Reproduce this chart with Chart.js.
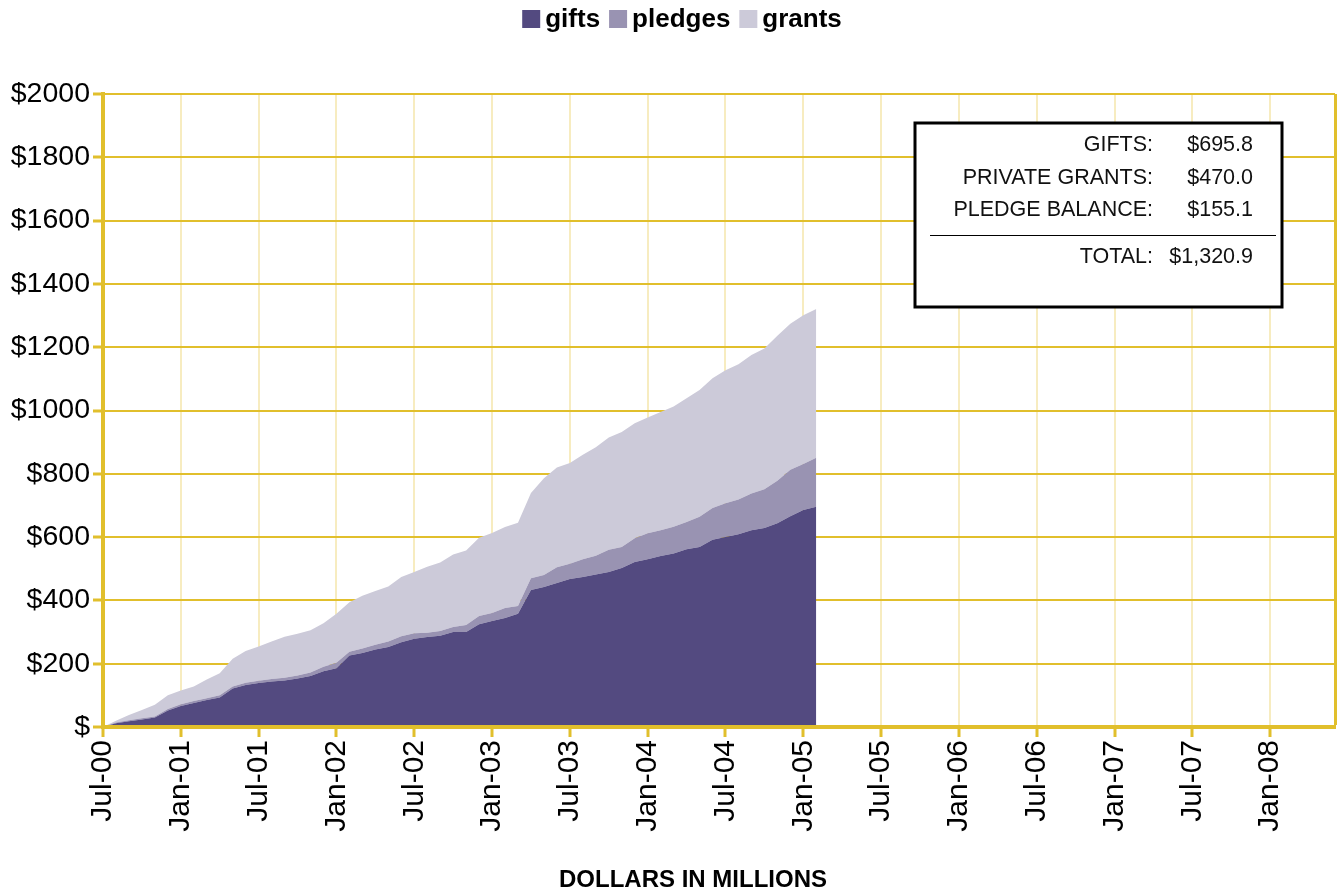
<!DOCTYPE html>
<html>
<head>
<meta charset="utf-8">
<script src="https://cdn.jsdelivr.net/npm/chart.js@4.4.1/dist/chart.umd.min.js"></script>
<style>
html,body{margin:0;padding:0;background:#fff;}
#wrap{width:1338px;height:891px;position:relative;}
</style>
</head>
<body>
<div id="wrap"><canvas id="c" width="1338" height="891"></canvas></div>
<script>
// Categories: one per month, Jul-00 .. Jun-08
const months = [
  'Jul-00','Aug-00','Sep-00','Oct-00','Nov-00','Dec-00',
  'Jan-01','Feb-01','Mar-01','Apr-01','May-01','Jun-01','Jul-01','Aug-01','Sep-01','Oct-01','Nov-01','Dec-01',
  'Jan-02','Feb-02','Mar-02','Apr-02','May-02','Jun-02','Jul-02','Aug-02','Sep-02','Oct-02','Nov-02','Dec-02',
  'Jan-03','Feb-03','Mar-03','Apr-03','May-03','Jun-03','Jul-03','Aug-03','Sep-03','Oct-03','Nov-03','Dec-03',
  'Jan-04','Feb-04','Mar-04','Apr-04','May-04','Jun-04','Jul-04','Aug-04','Sep-04','Oct-04','Nov-04','Dec-04',
  'Jan-05','Feb-05','Mar-05','Apr-05','May-05','Jun-05','Jul-05','Aug-05','Sep-05','Oct-05','Nov-05','Dec-05',
  'Jan-06','Feb-06','Mar-06','Apr-06','May-06','Jun-06','Jul-06','Aug-06','Sep-06','Oct-06','Nov-06','Dec-06',
  'Jan-07','Feb-07','Mar-07','Apr-07','May-07','Jun-07','Jul-07','Aug-07','Sep-07','Oct-07','Nov-07','Dec-07',
  'Jan-08','Feb-08','Mar-08','Apr-08','May-08','Jun-08'
];
const tickLabels = ['Jul-00','Jan-01','Jul-01','Jan-02','Jul-02','Jan-03','Jul-03','Jan-04','Jul-04','Jan-05','Jul-05','Jan-06','Jul-06','Jan-07','Jul-07','Jan-08'];
const yTicks = [0,200,400,600,800,1000,1200,1400,1600,1800,2000];

// Series values ($ millions, cumulative), Jul-00 .. Feb-05
const gifts = [0,12,18,24,30,52,66,76,85,93,122,133,139,144,147,153,161,176,186,226,234,245,253,268,279,284,288,300,300,325,335,344,358,433,442,455,468,474,482,490,502,521,530,540,548,562,569,592,600,609,622,629,644,666,686,695.8];
const pledges = [0,2,3,4,3,5,6,6,6,7,6,7,7,8,9,10,11,14,17,12,14,15,17,19,17,14,15,16,22,26,25,32,24,37,38,50,48,56,59,70,67,75,82,82,85,86,95,100,107,110,116,122,134,147,145,155.1];
const grants = [0,6,17,26,37,43,43,46,59,70,88,100,108,118,129,132,134,138,155,156,167,170,174,187,194,208,217,229,236,247,253,256,263,269,306,315,318,330,343,355,363,364,366,373,380,391,401,410,420,427,437,445,458,461,470,470.0];

const seriesNames = ['gifts','pledges','grants'];
const summaryLabels = ['GIFTS:','PRIVATE GRANTS:','PLEDGE BALANCE:'];
const summaryValues = ['$695.8','$470.0','$155.1'];
const totalLabel = 'TOTAL:';
const totalValue = '$1,320.9';
const axisTitle = 'DOLLARS IN MILLIONS';

const COLORS = ['#534A80','#9993B2','#CCCAD9'];
const GOLD = '#E1BF2C';
const PALE = '#F7ECC0';
const FONT = "'Liberation Sans', Arial, Helvetica, sans-serif";

const overlay = {
  id: 'overlay',
  afterDraw(chart) {
    const ctx = chart.ctx;
    const ca = chart.chartArea;
    ctx.save();
    // legend
    ctx.font = 'bold 26px ' + FONT;
    ctx.textBaseline = 'middle';
    const box = 18, gapBT = 5, gapItem = 9;
    const widths = seriesNames.map(n => ctx.measureText(n).width);
    let total = 0;
    widths.forEach((w, i) => { total += box + gapBT + w + (i < widths.length - 1 ? gapItem : 0); });
    let x = 682 - total / 2;
    const ly = 19;
    seriesNames.forEach((n, i) => {
      ctx.fillStyle = COLORS[i];
      ctx.fillRect(x, ly - box / 2, box, box);
      x += box + gapBT;
      ctx.fillStyle = '#000';
      ctx.textAlign = 'left';
      ctx.fillText(n, x, ly + 1);
      x += widths[i] + gapItem;
    });
    // axis title
    ctx.font = 'bold 24px ' + FONT;
    ctx.textAlign = 'center';
    ctx.fillText(axisTitle, 693, 880);
    // summary box
    const bx = ca.right - 420, by = ca.top + 29, bw = 367, bh = 184;
    ctx.fillStyle = '#fff';
    ctx.fillRect(bx, by, bw, bh);
    ctx.lineWidth = 3;
    ctx.strokeStyle = '#000';
    ctx.strokeRect(bx, by, bw, bh);
    ctx.font = '21.5px ' + FONT;
    ctx.fillStyle = '#111';
    ctx.textAlign = 'right';
    const rows = [22, 55, 87];
    summaryLabels.forEach((l, i) => {
      ctx.fillText(l, bx + 238, by + rows[i]);
      ctx.fillText(summaryValues[i], bx + 338, by + rows[i]);
    });
    ctx.lineWidth = 1;
    ctx.beginPath();
    ctx.moveTo(bx + 15, by + 112.5);
    ctx.lineTo(bx + 361, by + 112.5);
    ctx.stroke();
    ctx.fillText(totalLabel, bx + 238, by + 134);
    ctx.fillText(totalValue, bx + 338, by + 134);
    ctx.restore();
  }
};

const isTick = (i) => tickLabels.includes(months[i]);

new Chart(document.getElementById('c'), {
  type: 'line',
  data: {
    labels: months,
    datasets: [
      { label: seriesNames[0], data: gifts, backgroundColor: COLORS[0], borderColor: COLORS[0], fill: 'origin' },
      { label: seriesNames[1], data: pledges, backgroundColor: COLORS[1], borderColor: COLORS[1], fill: '-1' },
      { label: seriesNames[2], data: grants, backgroundColor: COLORS[2], borderColor: COLORS[2], fill: '-1' }
    ]
  },
  options: {
    responsive: false,
    animation: false,
    devicePixelRatio: 1,
    layout: { padding: { top: 94, right: 3, left: 0, bottom: 0 } },
    plugins: { legend: { display: false }, tooltip: { enabled: false } },
    elements: { point: { radius: 0 }, line: { borderWidth: 0, tension: 0 } },
    scales: {
      x: {
        type: 'category',
        offset: false,
        grid: {
          color: (c) => c.index === months.length - 1 ? GOLD : (isTick(c.index) ? PALE : 'rgba(0,0,0,0)'),
          lineWidth: (c) => c.index === months.length - 1 ? 3 : 2,
          tickColor: (c) => (isTick(c.index) ? GOLD : 'rgba(0,0,0,0)'),
          tickLength: 10,
          tickWidth: 3
        },
        border: { color: GOLD, width: 4, z: 1 },
        ticks: {
          autoSkip: false,
          maxRotation: 90,
          minRotation: 90,
          padding: 3,
          color: '#000',
          font: { family: FONT, size: 30 },
          callback: (v, i) => (isTick(i) ? months[i] : '')
        },
        afterFit: (s) => { s.height = 164; s.paddingLeft = 0; s.paddingRight = 0; }
      },
      y: {
        stacked: true,
        min: 0,
        max: 2000,
        afterBuildTicks: (s) => { s.ticks = yTicks.map(v => ({ value: v })); },
        grid: { color: GOLD, lineWidth: 2, tickColor: GOLD, tickLength: 10, tickWidth: 3 },
        border: { color: GOLD, width: 4, z: 1 },
        ticks: {
          padding: 3,
          color: '#000',
          font: { family: FONT, size: 28.5 },
          callback: (v) => (v === 0 ? '$' : '$' + v)
        },
        afterFit: (s) => { s.width = 103; }
      }
    }
  },
  plugins: [overlay]
});
</script>
</body>
</html>
